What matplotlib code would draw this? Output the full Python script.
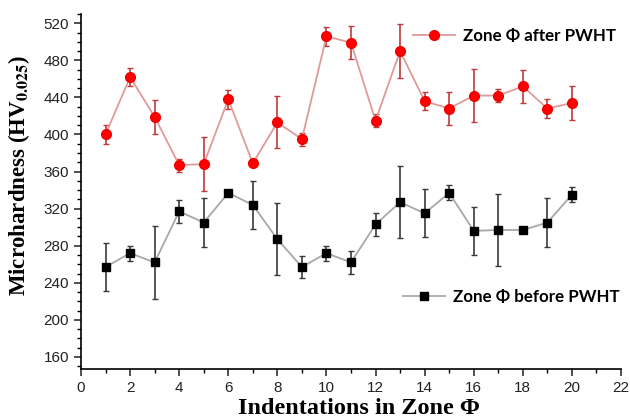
import matplotlib
matplotlib.use("Agg")
import matplotlib.pyplot as plt
from matplotlib.ticker import MultipleLocator
from matplotlib.lines import Line2D

x = list(range(1, 21))
after_vals = [400, 462, 419, 367, 368, 438, 369, 413, 395, 506,
              499, 415, 490, 436, 428, 442, 442, 452, 428, 434]
after_err = [10, 10, 18, 7, 29, 10, 0, 28, 7, 10,
             18, 7, 29, 10, 18, 29, 7, 18, 10, 18]
before_vals = [257, 272, 262, 317, 305, 337, 324, 287, 257, 272,
               262, 303, 327, 315, 337, 296, 297, 297, 305, 335]
before_err = [26, 8, 39, 12, 26, 0, 26, 39, 12, 8,
              12, 12, 39, 26, 8, 26, 39, 0, 26, 8]

legend_after = "Zone \u03a6 after PWHT"
legend_before = "Zone \u03a6 before PWHT"
xlabel = "Indentations in Zone \u03a6"
ylabel = "Microhardness (HV$_{\\mathbf{0.025}}$)"

plt.rcParams['mathtext.fontset'] = 'stix'

fig = plt.figure(figsize=(6.3, 4.19), dpi=100)
ax = fig.add_axes([0.1286, 0.1193, 0.8571, 0.8473])

ax.errorbar(x, after_vals, yerr=after_err, fmt='none', ecolor='#c0393b',
            elinewidth=1.2, capsize=2.5, capthick=1.0, zorder=2)
ax.plot(x, after_vals, color='#e09a9a', lw=1.3, zorder=3)
ax.plot(x, after_vals, 'o', color='#ff0000', ms=7, mec='#ee0000', zorder=4)

ax.errorbar(x, before_vals, yerr=before_err, fmt='none', ecolor='#3a3a3a',
            elinewidth=1.2, capsize=2.5, capthick=1.0, zorder=2)
ax.plot(x, before_vals, color='#a8a8a8', lw=1.3, zorder=3)
ax.plot(x, before_vals, 's', color='#000000', ms=6, zorder=4)

ax.set_xlim(0, 22)
ax.set_ylim(147, 530)
ax.xaxis.set_major_locator(MultipleLocator(2))
ax.xaxis.set_minor_locator(MultipleLocator(1))
ax.yaxis.set_major_locator(MultipleLocator(40))
ax.yaxis.set_minor_locator(MultipleLocator(10))
ax.set_yticks(range(160, 521, 40))
ax.spines['top'].set_visible(False)
ax.spines['right'].set_visible(False)
for s in ['left', 'bottom']:
    ax.spines[s].set_linewidth(1.2)
ax.tick_params(which='major', direction='out', length=5, width=1.1,
               labelsize=11, colors='#222222')
ax.tick_params(which='minor', direction='out', length=3, width=1.0)
for lab in ax.get_xticklabels() + ax.get_yticklabels():
    lab.set_family(['Liberation Sans', 'DejaVu Sans'])

fig.text(0.030, 0.58, ylabel, rotation=90, ha='center', va='center',
         fontsize=16.5, fontweight='bold', family=['Liberation Serif', 'DejaVu Serif'])
fig.text(0.57, 0.026, xlabel, ha='center', va='center',
         fontsize=17.5, fontweight='bold', family=['Liberation Serif', 'DejaVu Serif'])

h_after = Line2D([], [], color='#e09a9a', lw=1.3, marker='o', mfc='#ff0000',
                 mec='#ee0000', ms=7)
h_before = Line2D([], [], color='#a8a8a8', lw=1.3, marker='s', mfc='#000000',
                  mec='#000000', ms=6)
legprop = {'family': ['Lato', 'DejaVu Sans'], 'weight': 'bold', 'size': 12.2}
leg1 = ax.legend([h_after], [legend_after], loc='center left',
                 bbox_to_anchor=(0.615, 0.938), frameon=False, prop=legprop,
                 borderpad=0, borderaxespad=0,
                 handlelength=2.5, handletextpad=0.47)
ax.add_artist(leg1)
ax.legend([h_before], [legend_before], loc='center left',
          bbox_to_anchor=(0.596, 0.203), frameon=False, prop=legprop,
          borderpad=0, borderaxespad=0,
          handlelength=2.5, handletextpad=0.47)

fig.savefig("out.png", dpi=100)
